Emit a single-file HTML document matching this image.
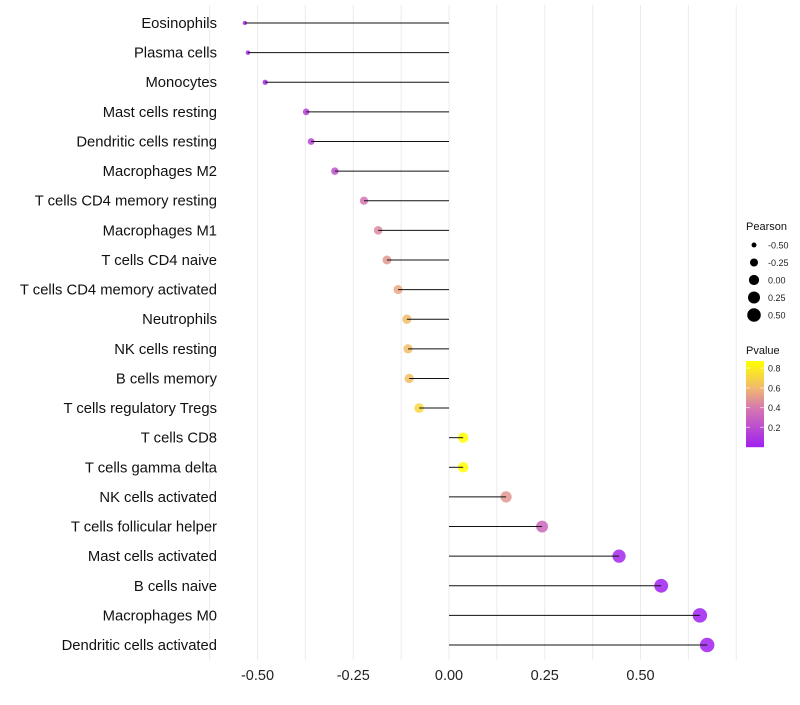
<!DOCTYPE html>
<html><head><meta charset="utf-8"><style>
body{margin:0;background:#fff;font-family:"Liberation Sans",sans-serif}
</style></head><body>
<svg id="c" width="800" height="700" xmlns="http://www.w3.org/2000/svg" font-family="Liberation Sans, sans-serif"></svg>
<script>
const cells=["Eosinophils","Plasma cells","Monocytes","Mast cells resting","Dendritic cells resting","Macrophages M2","T cells CD4 memory resting","Macrophages M1","T cells CD4 naive","T cells CD4 memory activated","Neutrophils","NK cells resting","B cells memory","T cells regulatory  Tregs","T cells CD8","T cells gamma delta","NK cells activated","T cells follicular helper","Mast cells activated","B cells naive","Macrophages M0","Dendritic cells activated"];
const pearson=[-0.533,-0.525,-0.48,-0.373,-0.36,-0.298,-0.222,-0.185,-0.162,-0.133,-0.11,-0.107,-0.104,-0.078,0.037,0.037,0.149,0.243,0.444,0.554,0.655,0.674];
const pvalue=[0.02,0.03,0.06,0.15,0.16,0.22,0.38,0.45,0.5,0.55,0.62,0.62,0.63,0.72,0.87,0.87,0.5,0.32,0.04,0.01,0.003,0.002];
const xTicks=[-0.5,-0.25,0,0.25,0.5];
const xTickLabels=["-0.50","-0.25","0.00","0.25","0.50"];
const sizeLegend=[-0.5,-0.25,0,0.25,0.5];
const sizeLegendLabels=["-0.50","-0.25","0.00","0.25","0.50"];
const pTicks=[0.2,0.4,0.6,0.8];
const NS="http://www.w3.org/2000/svg",svg=document.getElementById('c');
const X=v=>449+v*383, Y=i=>23+i*29.62, R=v=>Math.sqrt(Math.max(3,26+40*v));
const stops=[[0,[160,32,240]],[0.4,[214,120,176]],[0.6,[240,184,112]],[0.87,[255,255,0]]];
function col(p){for(let k=1;k<stops.length;k++){if(p<=stops[k][0]||k==stops.length-1){const a=stops[k-1],b=stops[k];let t=Math.min(1,Math.max(0,(p-a[0])/(b[0]-a[0])));return 'rgb('+a[1].map((c,j)=>Math.round(c+(b[1][j]-c)*t)).join(',')+')';}}}
function el(t,a,txt){const e=document.createElementNS(NS,t);for(const k in a)e.setAttribute(k,a[k]);if(txt!==undefined)e.textContent=txt;svg.appendChild(e);return e;}
for(let v=-0.625;v<=0.75;v+=0.125){const e=el('line',{x1:X(v),x2:X(v),y1:5,y2:660,stroke:'#ebebeb','stroke-width':1});}
xTicks.forEach((v,i)=>{const t=el('text',{x:X(v),y:680,'text-anchor':'middle','font-size':14.5,fill:'#222'},xTickLabels[i]);});
cells.forEach((c,i)=>{
const t=el('text',{x:217,y:Y(i)+5,'text-anchor':'end','font-size':14.8,fill:'#111'},c);
const d=el('circle',{cx:X(pearson[i]),cy:Y(i),r:R(pearson[i]),fill:col(pvalue[i]),'fill-opacity':0.85});
const l=el('line',{x1:X(0),x2:X(pearson[i]),y1:Y(i),y2:Y(i),stroke:'#111','stroke-width':1});
});
let t=el('text',{x:746,y:230,'font-size':11,fill:'#111'},'Pearson');
sizeLegend.forEach((v,i)=>{const y=245+i*17.5;const c=el('circle',{cx:754,cy:y,r:R(v),fill:'#000'});
const tt=el('text',{x:768,y:y+3.5,'font-size':9,fill:'#222'},sizeLegendLabels[i]);});
t=el('text',{x:746,y:354,'font-size':11,fill:'#111'},'Pvalue');
const PY=p=>447-p*98.5;
for(let y=361;y<447;y++){const r=el('rect',{x:746,y:y,width:18,height:1.2,fill:col((447-y)/98.5)});}
pTicks.forEach(p=>{const a=el('line',{x1:746,x2:750,y1:PY(p),y2:PY(p),stroke:'#fff','stroke-opacity':0.6});
const b=el('line',{x1:760,x2:764,y1:PY(p),y2:PY(p),stroke:'#fff','stroke-opacity':0.6});
const tt=el('text',{x:768,y:PY(p)+3.5,'font-size':9,fill:'#222'},p.toFixed(1));});
</script>
</body></html>
